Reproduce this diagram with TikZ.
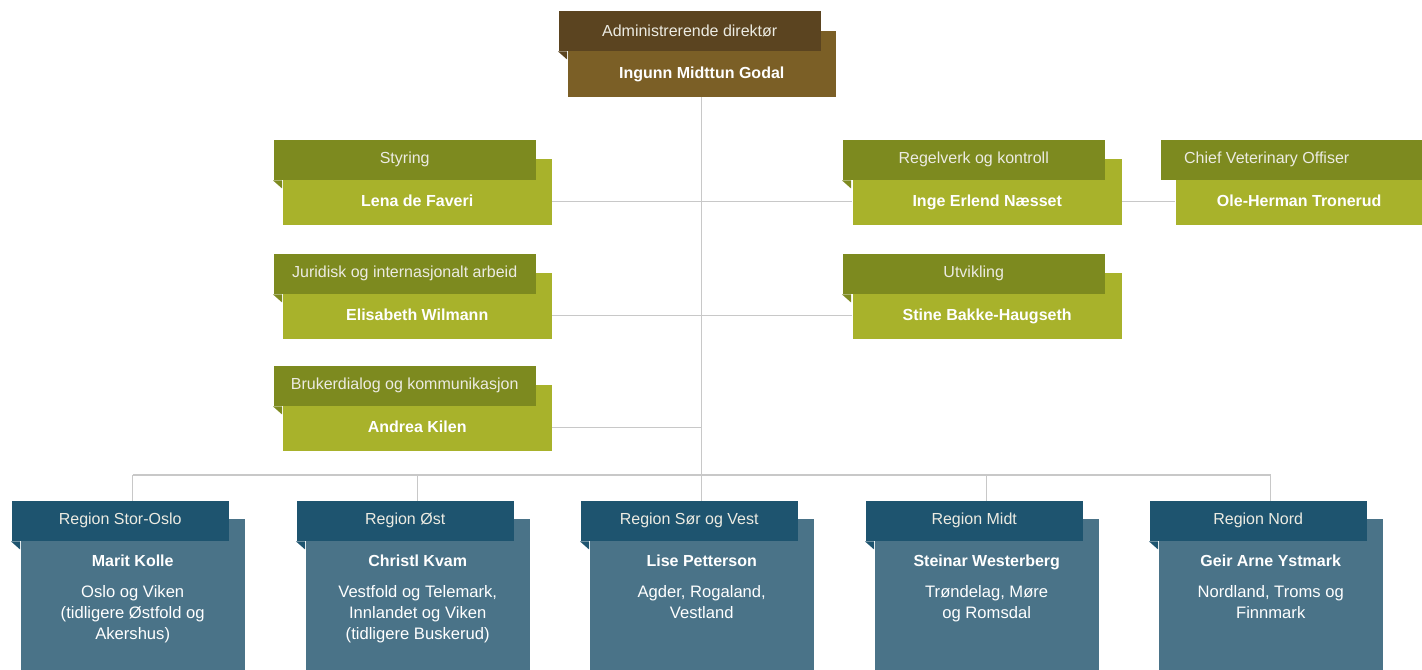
\documentclass[tikz,border=0pt]{standalone}
\usepackage{fontspec}
\setmainfont{Liberation Sans}
\usetikzlibrary{backgrounds}

\definecolor{admdark}{HTML}{5B4420}
\definecolor{admlight}{HTML}{7B5F26}
\definecolor{unitdark}{HTML}{7D8A1F}
\definecolor{unitlight}{HTML}{A8B22B}
\definecolor{regdark}{HTML}{1E546F}
\definecolor{reglight}{HTML}{4A7388}
\definecolor{linegray}{HTML}{C8C8C8}
\definecolor{headtext}{HTML}{ECEBE2}

\begin{document}
\begin{tikzpicture}[x=0.5pt, y=-0.5pt, line width=0.7pt]
    \tikzstyle{box}=[rectangle, anchor=north west, inner sep=0pt]
    \tikzstyle{box head}=[box, minimum height=20pt, text=headtext, font=\fontsize{8}{10}\selectfont]
    \tikzstyle{box body}=[box, text=white, font=\fontsize{8}{10}\selectfont\bfseries, text height=24pt, text depth=9pt]
    \tikzstyle{adm head}=[box head, fill=admdark, minimum width=131pt]
    \tikzstyle{adm body}=[box body, fill=admlight, minimum width=134pt]
    \tikzstyle{unit head}=[box head, fill=unitdark, minimum width=131pt]
    \tikzstyle{unit body}=[box body, fill=unitlight, minimum width=134.5pt]
    \tikzstyle{region head}=[box head, fill=regdark, minimum width=108.5pt]
    \tikzstyle{region body}=[box body, fill=reglight, minimum width=112pt, text width=104pt, align=flush center, font=\fontsize{8.3}{10.5}\selectfont, text depth=51.5pt]
    \tikzstyle{link}=[draw=linegray, line width=0.7pt]

    \useasboundingbox (0,0) rectangle (1422,669);
    \clip (0,0) rectangle (1422,669);

    % Top management
    \node[adm body] (adm) at (567,30) {Ingunn Midttun Godal};
    \node[adm head] (admh) at (558,10) {Administrerende direktør};

    % Staff units, left
    \node[unit body] (sty) at (282,158) {Lena de Faveri};
    \node[unit head] (styh) at (273,139) {Styring};
    \node[unit body] (jur) at (282,272) {Elisabeth Wilmann};
    \node[unit head] (jurh) at (273,253) {Juridisk og internasjonalt arbeid};
    \node[unit body] (bruk) at (282,384) {Andrea Kilen};
    \node[unit head] (brukh) at (273,365) {Brukerdialog og kommunikasjon};

    % Staff units, right
    \node[unit body] (reg) at (852,158) {Inge Erlend Næsset};
    \node[unit head] (regh) at (842,139) {Regelverk og kontroll};
    \node[unit body] (utv) at (852,272) {Stine Bakke-Haugseth};
    \node[unit head] (utvh) at (842,253) {Utvikling};
    \node[unit body, minimum width=123.5pt] (cvo) at (1175,158) {Ole-Herman Tronerud};
    \node[unit head] (cvoh) at (1160,139) {Chief Veterinary Offiser\hspace*{25pt}};

    % Regions
    \node[region body] (r1) at (20,518) {\textbf{\fontsize{8}{10}\selectfont Marit Kolle}\\[5pt]Oslo og Viken\\(tidligere Østfold og\\Akershus)};
    \node[region head] (r1h) at (11,500) {Region Stor-Oslo};
    \node[region body] (r2) at (305,518) {\textbf{\fontsize{8}{10}\selectfont Christl Kvam}\\[5pt]Vestfold og Telemark,\\Innlandet og Viken\\(tidligere Buskerud)};
    \node[region head] (r2h) at (296,500) {Region Øst};
    \node[region body] (r3) at (589,518) {\textbf{\fontsize{8}{10}\selectfont Lise Petterson}\\[5pt]Agder, Rogaland,\\Vestland};
    \node[region head] (r3h) at (580,500) {Region Sør og Vest};
    \node[region body] (r4) at (874,518) {\textbf{\fontsize{8}{10}\selectfont Steinar Westerberg}\\[5pt]Trøndelag, Møre\\og Romsdal};
    \node[region head] (r4h) at (865,500) {Region Midt};
    \node[region body] (r5) at (1158,518) {\textbf{\fontsize{8}{10}\selectfont Geir Arne Ystmark}\\[5pt]Nordland, Troms og\\Finnmark};
    \node[region head] (r5h) at (1149,500) {Region Nord};

    % Folded corners under the headers
    \foreach \h/\c in {admh/admdark, styh/unitdark, jurh/unitdark, brukh/unitdark, regh/unitdark, utvh/unitdark, r1h/regdark, r2h/regdark, r3h/regdark, r4h/regdark, r5h/regdark}
        \fill[\c] (\h.south west) -- ++(9,0) -- ++(0,8) -- cycle;

    \coordinate (bus) at (697,475);

    % Connections
    \begin{scope}[on background layer]
    \draw[link] (adm.south) -- (adm.south |- bus);
    \draw[link] (sty.mid east) -- (reg.mid west);
    \draw[link] (jur.mid east) -- (utv.mid west);
    \draw[link] (bruk.mid east) -- (bruk.mid east -| adm.south);
    \draw[link] (reg.mid east) -- (cvo.mid west);
    \draw[link] (r1.north |- bus) -- (r5.north |- bus);
    \foreach \r in {r1,r2,r3,r4,r5}
        \draw[link] (\r.north |- bus) -- (\r.north);
    \end{scope}

\end{tikzpicture}
\end{document}
